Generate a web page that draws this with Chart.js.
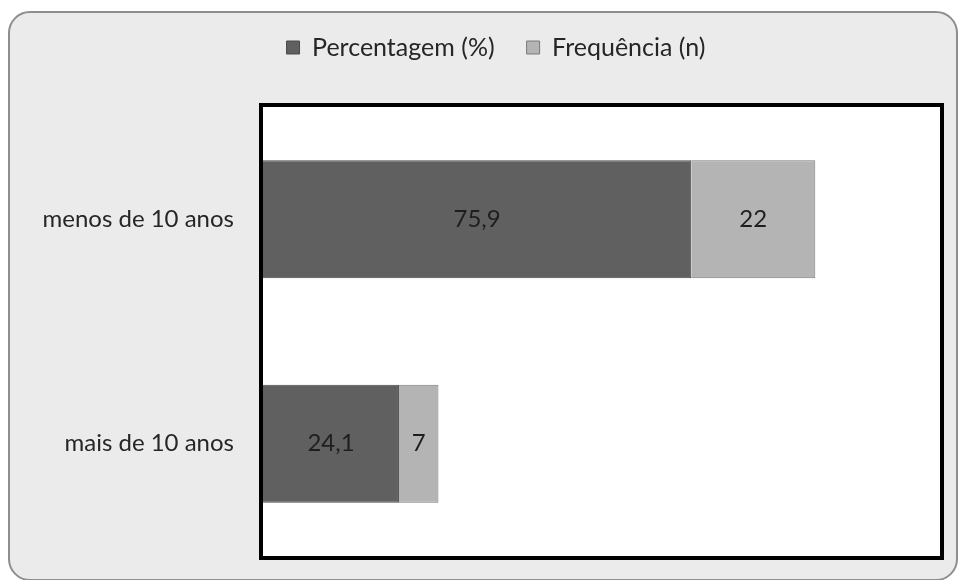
<!DOCTYPE html>
<html>
<head>
<meta charset="utf-8">
<script src="https://cdn.jsdelivr.net/npm/chart.js@4.4.1/dist/chart.umd.min.js"></script>
<style>
  html, body { margin: 0; padding: 0; background: #ffffff; }
  #wrap { position: relative; width: 958px; height: 580px; overflow: hidden; }
  #frame {
    position: absolute; left: 8px; top: 11px; width: 946px; height: 566px;
    border: 2px solid #8e8e8e; border-radius: 22px; background: #ebebeb;
  }
  #chart { position: absolute; left: 0; top: 0; }
</style>
</head>
<body>
<div id="wrap">
  <div id="frame"></div>
  <canvas id="chart" width="958" height="580"></canvas>
</div>
<script>
/* Tempo de serviço - barras empilhadas */

const categorias = ['menos de 10 anos', 'mais de 10 anos'];
const percentagem = [75.9, 24.1];
const frequencia = [22, 7];

const FONTE = 'Lato, "Open Sans", sans-serif';

// formata com vírgula decimal
const fmt = v => String(v).replace('.', ',');

// altura fixa do bloco da legenda e leve deslocamento para a direita
const legendBox = {
  id: 'legendBox',
  beforeInit(chart) {
    const fit = chart.legend.fit;
    chart.legend.fit = function () {
      fit.call(this);
      this.height = 104;
    };
  },
  afterLayout(chart) {
    chart.legend.left += 26;
    chart.legend.right += 26;
  }
};

// fundo branco e moldura preta da área de plotagem
const plotFrame = {
  id: 'plotFrame',
  beforeDatasetsDraw(chart) {
    const { ctx, chartArea: a } = chart;
    ctx.save();
    ctx.fillStyle = '#ffffff';
    ctx.fillRect(a.left, a.top, a.right - a.left, a.bottom - a.top);
    ctx.strokeStyle = '#000000';
    ctx.lineWidth = 4;
    ctx.strokeRect(a.left - 2, a.top - 2, a.right - a.left + 4, a.bottom - a.top + 4);
    ctx.restore();
  }
};

// valores escritos no meio de cada segmento
const valueLabels = {
  id: 'valueLabels',
  afterDatasetsDraw(chart) {
    const { ctx } = chart;
    ctx.save();
    ctx.font = '24px ' + FONTE;
    ctx.fillStyle = '#1e1e1e';
    ctx.textAlign = 'center';
    ctx.textBaseline = 'middle';
    chart.data.datasets.forEach((ds, i) => {
      chart.getDatasetMeta(i).data.forEach((bar, j) => {
        const x = (bar.x + bar.base) / 2;
        ctx.fillText(fmt(ds.data[j]), x, bar.y);
      });
    });
    ctx.restore();
  }
};

new Chart(document.getElementById('chart'), {
  type: 'bar',
  data: {
    labels: categorias,
    datasets: [
      {
        label: 'Percentagem (%)',
        data: percentagem,
        backgroundColor: '#606060',
        borderColor: '#4a4a4a',
        borderWidth: 1
      },
      {
        label: 'Frequência (n)',
        data: frequencia,
        backgroundColor: '#b4b4b4',
        borderColor: '#7a7a7a',
        borderWidth: 1
      }
    ]
  },
  options: {
    indexAxis: 'y',
    responsive: false,
    animation: false,
    events: [],
    layout: { padding: { left: 0, right: 18, top: 3, bottom: 24 } },
    datasets: {
      bar: { categoryPercentage: 1, barPercentage: 0.525 }
    },
    plugins: {
      legend: {
        position: 'top',
        labels: {
          color: '#262626',
          font: { family: FONTE, size: 25 },
          boxWidth: 13,
          boxHeight: 13,
          padding: 32
        }
      },
      tooltip: { enabled: false }
    },
    scales: {
      x: {
        stacked: true,
        min: 0,
        max: 120,
        display: false
      },
      y: {
        stacked: true,
        grid: { display: false, drawTicks: false },
        border: { display: false },
        ticks: {
          color: '#262626',
          font: { family: FONTE, size: 24 },
          padding: 29
        },
        afterFit(scale) {
          scale.width = 263;
          scale.paddingTop = 0;
          scale.paddingBottom = 0;
        }
      }
    }
  },
  plugins: [legendBox, plotFrame, valueLabels]
});
</script>
</body>
</html>
